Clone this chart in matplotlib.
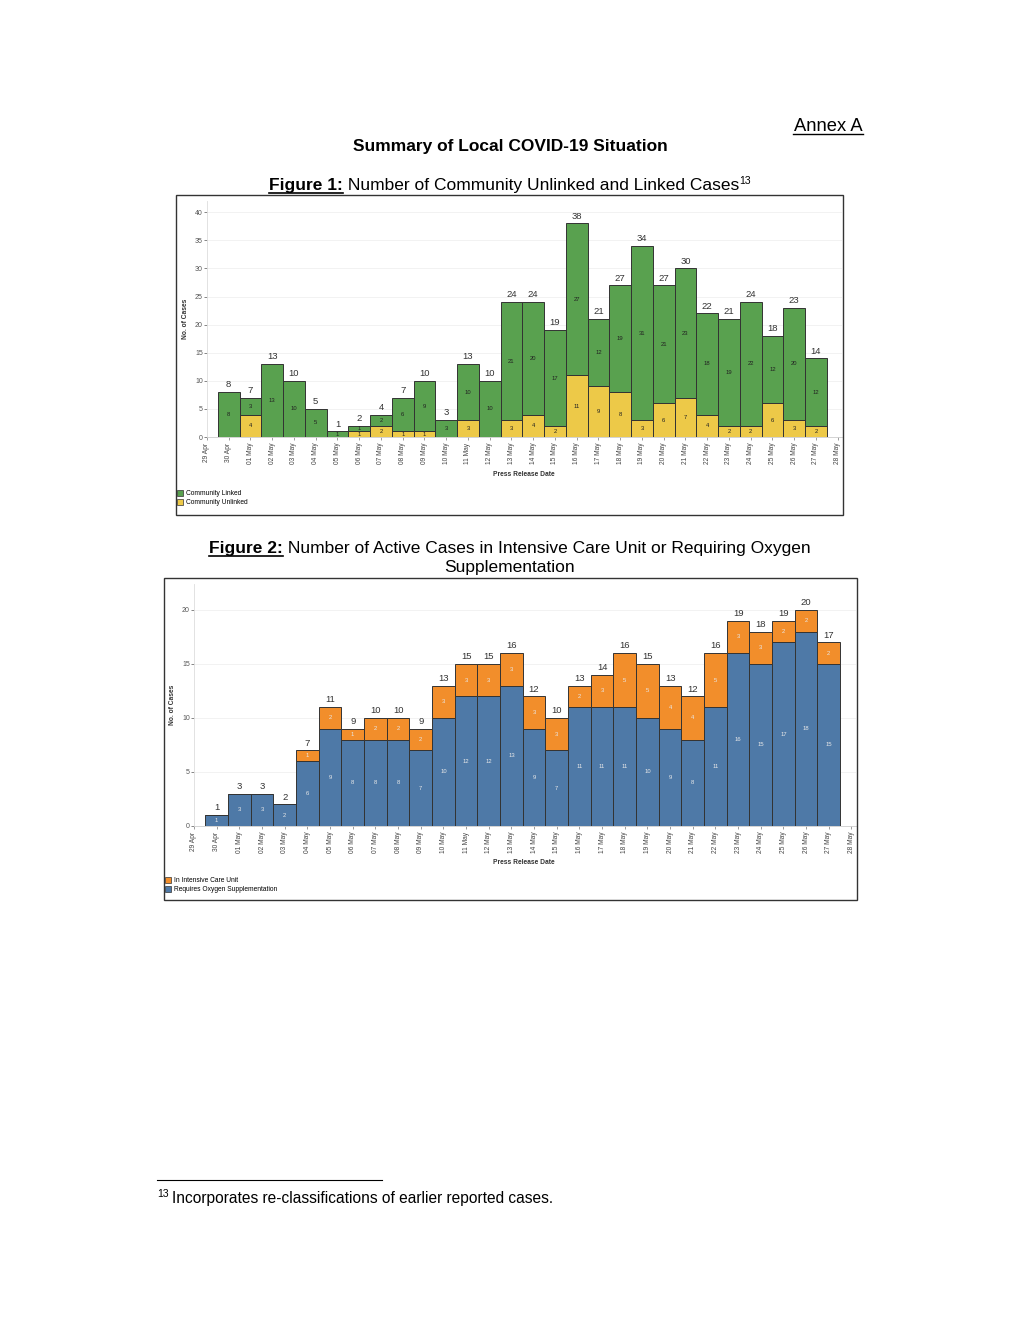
import matplotlib
matplotlib.use('Agg')
import matplotlib.pyplot as plt
from matplotlib.patches import Rectangle, Patch
from matplotlib.lines import Line2D

# Daten (Press Release Date)
dates = ['29 Apr', '30 Apr', '01 May', '02 May', '03 May', '04 May', '05 May', '06 May',
         '07 May', '08 May', '09 May', '10 May', '11 May', '12 May', '13 May', '14 May',
         '15 May', '16 May', '17 May', '18 May', '19 May', '20 May', '21 May', '22 May',
         '23 May', '24 May', '25 May', '26 May', '27 May', '28 May']

# Figure 1: Community cases (30 Apr .. 27 May)
unlinked = [0, 4, 0, 0, 0, 0, 1, 2, 1, 1, 0, 3, 0, 3, 4, 2, 11, 9, 8, 3, 6, 7, 4, 2, 2, 6, 3, 2]
linked = [8, 3, 13, 10, 5, 1, 1, 2, 6, 9, 3, 10, 10, 21, 20, 17, 27, 12, 19, 31, 21, 23, 18, 19, 22, 12, 20, 12]

# Figure 2: ICU / oxygen (30 Apr .. 27 May)
oxygen = [1, 3, 3, 2, 6, 9, 8, 8, 8, 7, 10, 12, 12, 13, 9, 7, 11, 11, 11, 10, 9, 8, 11, 16, 15, 17, 18, 15]
icu = [0, 0, 0, 0, 1, 2, 1, 2, 2, 2, 3, 3, 3, 3, 3, 3, 2, 3, 5, 5, 4, 4, 5, 3, 3, 2, 2, 2]

GREEN = '#59a14f'
YELLOW = '#edc948'
BLUE = '#4e79a7'
ORANGE = '#f28e2b'

W, H = 1020, 1320
fig = plt.figure(figsize=(W / 100, H / 100), dpi=100)
plt.rcParams['font.family'] = ['Liberation Sans', 'DejaVu Sans']


def fx(x):
    return x / W


def fy(y):
    return 1 - y / H


def text_line(y, parts, xc=510):
    # parts: (text, bold, underline, size, raise_px)
    r = fig.canvas.get_renderer()
    objs = []
    for txt, bold, ul, size, dy in parts:
        t = fig.text(0, fy(y - dy), txt, fontsize=size, fontweight='bold' if bold else 'normal',
                     va='baseline', ha='left', color='black')
        objs.append((t, ul))
    widths = [t.get_window_extent(r).width for t, _ in objs]
    x = xc - sum(widths) / 2
    for (t, ul), w in zip(objs, widths):
        t.set_x(fx(x))
        if ul:
            fig.add_artist(Line2D([fx(x), fx(x + w)], [fy(y + 3), fy(y + 3)], color='black', lw=1.2))
        x += w


# Kopfzeilen
fig.text(fx(863), fy(131), 'Annex A', fontsize=13.2, ha='right', va='baseline')
fig.add_artist(Line2D([fx(793), fx(863)], [fy(134), fy(134)], color='black', lw=1))
fig.text(fx(510), fy(151), 'Summary of Local COVID-19 Situation', fontsize=12.5,
         fontweight='bold', ha='center', va='baseline')
text_line(190, [('Figure 1:', True, True, 12.5, 0),
                (' Number of Community Unlinked and Linked Cases', False, False, 12.5, 0),
                ('13', False, False, 7.5, 6)])
text_line(553, [('Figure 2:', True, True, 12.5, 0),
                (' Number of Active Cases in Intensive Care Unit or Requiring Oxygen', False, False, 12.5, 0)])
text_line(572, [('Supplementation', False, False, 12.5, 0)])

# Fussnote
fig.add_artist(Line2D([fx(157), fx(382)], [fy(1180), fy(1180)], color='black', lw=0.8))
fig.text(fx(157), fy(1197), '13', fontsize=7.5, va='baseline')
fig.text(fx(172), fy(1203), 'Incorporates re-classifications of earlier reported cases.', fontsize=11.2,
         va='baseline')


def draw_chart(box, ax_rect, ylim, bottom, top, c_bottom, c_top, seg_color, ylabel_x, legend_xy,
               labels_legend):
    x0, y0, x1, y1 = box
    fig.add_artist(Rectangle((fx(x0), fy(y1)), fx(x1 - x0), (y1 - y0) / H, transform=fig.transFigure,
                             fill=False, edgecolor='#333333', lw=1.0))
    l, t, r, b = ax_rect
    ax = fig.add_axes([fx(l), fy(b), fx(r - l), (b - t) / H])
    pos = list(range(1, len(bottom) + 1))
    totals = [a + c for a, c in zip(bottom, top)]
    ax.bar(pos, bottom, width=1, color=c_bottom, edgecolor='#333333', lw=0.7, zorder=3)
    ax.bar(pos, top, width=1, bottom=bottom, color=c_top, edgecolor='#333333', lw=0.7, zorder=3)
    for p, a, c, tot in zip(pos, bottom, top, totals):
        if a > 0:
            ax.text(p, a / 2, str(a), ha='center', va='center', fontsize=4.2, color=seg_color, zorder=4)
        if c > 0:
            ax.text(p, a + c / 2, str(c), ha='center', va='center', fontsize=4.2, color=seg_color, zorder=4)
        ax.annotate(str(tot), (p, tot), xytext=(0, 2), textcoords='offset points', ha='center',
                    va='bottom', fontsize=6.8, color='#333333')
    ax.set_xlim(0, 29.2)
    ax.set_ylim(0, ylim[0])
    ax.set_yticks(ylim[1])
    ax.set_xticks(range(len(dates)))
    ax.set_xticklabels(dates, rotation=90, fontsize=4.8, color='#444444')
    ax.tick_params(axis='y', labelsize=5, colors='#555555', length=2, width=0.5, pad=1)
    ax.tick_params(axis='x', length=2, width=0.5, colors='#777777', pad=2)
    for lab in ax.get_xticklabels():
        lab.set_color('#444444')
    ax.grid(axis='y', color='#f0f0f0', lw=0.6, zorder=0)
    for s in ['top', 'right']:
        ax.spines[s].set_visible(False)
    ax.spines['left'].set_color('#dddddd')
    ax.spines['bottom'].set_color('#cccccc')
    ax.spines['left'].set_linewidth(0.6)
    ax.spines['bottom'].set_linewidth(0.6)
    fig.text(fx(ylabel_x), fy((t + b) / 2), 'No. of Cases', rotation=90, fontsize=4.8, fontweight='bold',
             color='#333333', ha='center', va='center')
    fig.text(fx(524), fy(b + 37), 'Press Release Date', fontsize=4.8, fontweight='bold', color='#333333',
             ha='center', va='center')
    handles = [Patch(facecolor=c, edgecolor='#333333', lw=0.5, label=lb) for c, lb in labels_legend]
    fig.legend(handles=handles, loc='upper left', bbox_to_anchor=(fx(legend_xy[0]), fy(legend_xy[1])),
               frameon=False, fontsize=4.8, handlelength=0.9, handleheight=0.9, handletextpad=0.4,
               labelspacing=0.35, borderaxespad=0, borderpad=0)
    return ax


draw_chart(box=(176, 195, 843, 515), ax_rect=(207, 201, 842, 437), ylim=(42, range(0, 41, 5)),
           bottom=unlinked, top=linked, c_bottom=YELLOW, c_top=GREEN, seg_color='#222222',
           ylabel_x=186, legend_xy=(177, 490),
           labels_legend=[(GREEN, 'Community Linked'), (YELLOW, 'Community Unlinked')])

draw_chart(box=(164, 578, 857, 900), ax_rect=(194, 584, 856, 826), ylim=(22.4, range(0, 21, 5)),
           bottom=oxygen, top=icu, c_bottom=BLUE, c_top=ORANGE, seg_color='#e8e8e8',
           ylabel_x=172, legend_xy=(165, 877),
           labels_legend=[(ORANGE, 'In Intensive Care Unit'), (BLUE, 'Requires Oxygen Supplementation')])

fig.savefig('out.png', dpi=100, facecolor='white')
